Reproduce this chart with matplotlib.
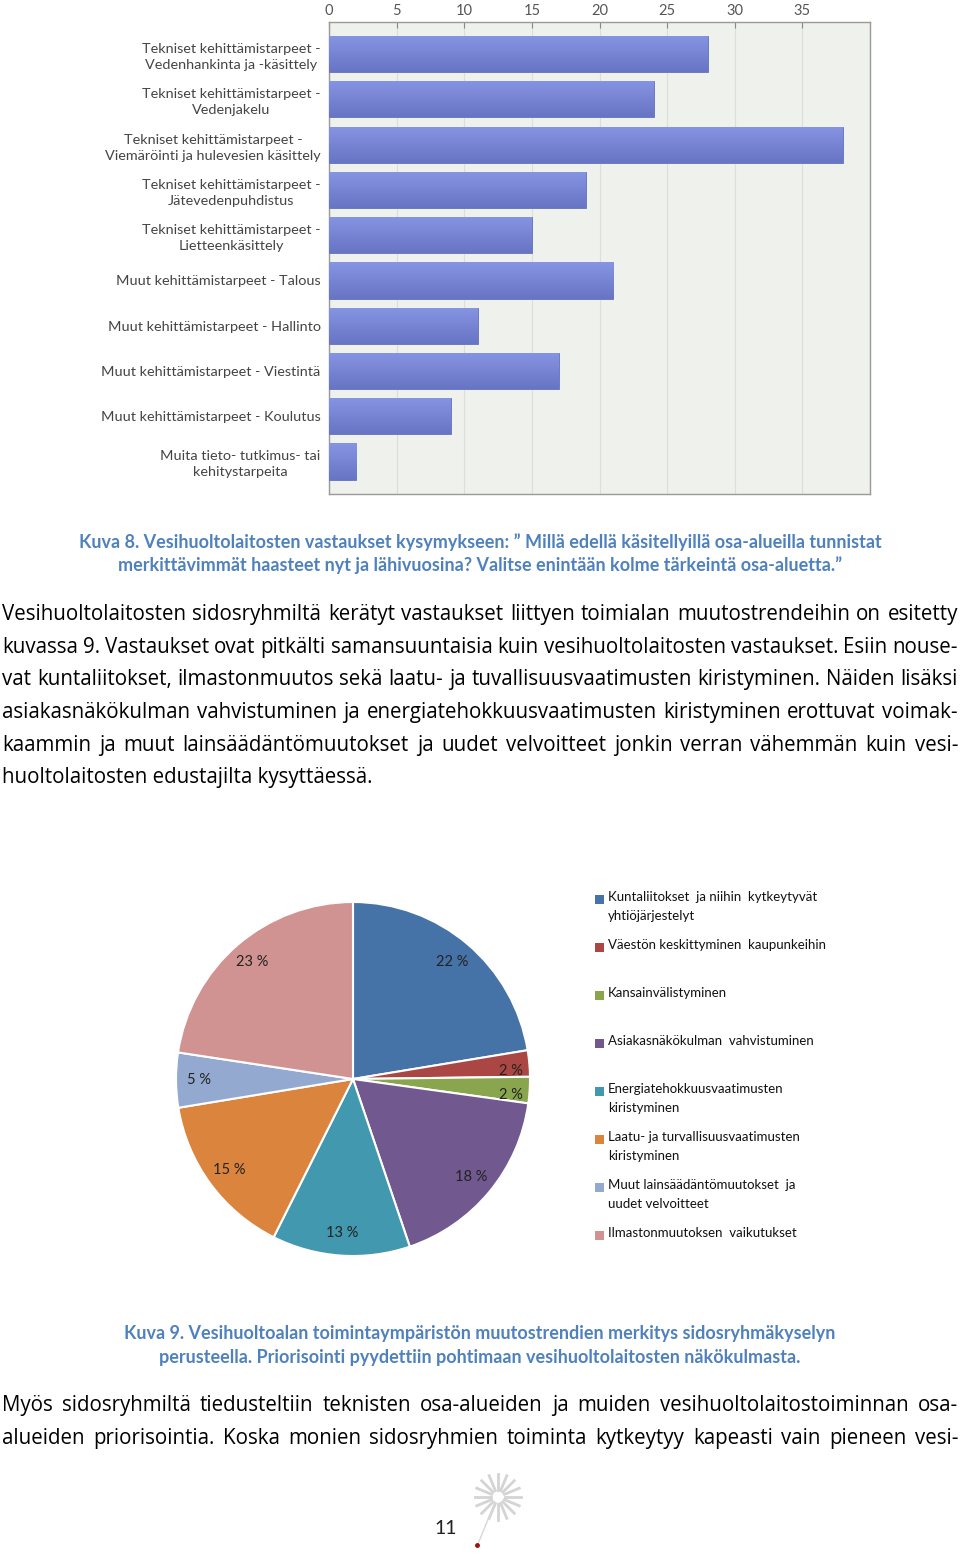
import matplotlib
matplotlib.use("Agg")
import matplotlib.pyplot as plt
import numpy as np
from matplotlib.patches import Rectangle
from matplotlib.lines import Line2D

W, H = 960, 1554
plt.rcParams["font.family"] = ["Lato", "DejaVu Sans"]

# ---- data ----
bar_labels = [
    "Tekniset kehittämistarpeet -\nVedenhankinta ja -käsittely",
    "Tekniset kehittämistarpeet -\nVedenjakelu",
    "Tekniset kehittämistarpeet -\nViemäröinti ja hulevesien käsittely",
    "Tekniset kehittämistarpeet -\nJätevedenpuhdistus",
    "Tekniset kehittämistarpeet -\nLietteenkäsittely",
    "Muut kehittämistarpeet - Talous",
    "Muut kehittämistarpeet - Hallinto",
    "Muut kehittämistarpeet - Viestintä",
    "Muut kehittämistarpeet - Koulutus",
    "Muita tieto- tutkimus- tai\nkehitystarpeita",
]
bar_values = [28, 24, 38, 19, 15, 21, 11, 17, 9, 2]
bar_ticks = [0, 5, 10, 15, 20, 25, 30, 35]

pie_labels = [
    "Kuntaliitokset  ja niihin  kytkeytyvät\nyhtiöjärjestelyt",
    "Väestön keskittyminen  kaupunkeihin",
    "Kansainvälistyminen",
    "Asiakasnäkökulman  vahvistuminen",
    "Energiatehokkuusvaatimusten\nkiristyminen",
    "Laatu- ja turvallisuusvaatimusten\nkiristyminen",
    "Muut lainsäädäntömuutokset  ja\nuudet velvoitteet",
    "Ilmastonmuutoksen  vaikutukset",
]
# slice sizes; labels show them rounded
pie_values = [22.4, 2.4, 2.4, 17.6, 12.6, 15.0, 5.0, 22.6]
pie_colors = ["#4572A7", "#AA4643", "#89A54E", "#71588F",
              "#4198AF", "#DB843D", "#93A9CF", "#D19392"]

caption8 = ["Kuva 8. Vesihuoltolaitosten vastaukset kysymykseen: \u201d Millä edellä käsitellyillä osa-alueilla tunnistat",
            "merkittävimmät haasteet nyt ja lähivuosina? Valitse enintään kolme tärkeintä osa-aluetta.\u201d"]
caption9 = ["Kuva 9. Vesihuoltoalan toimintaympäristön muutostrendien merkitys sidosryhmäkyselyn",
            "perusteella. Priorisointi pyydettiin pohtimaan vesihuoltolaitosten näkökulmasta."]
para1 = [
    "Vesihuoltolaitosten sidosryhmiltä kerätyt vastaukset liittyen toimialan muutostrendeihin on esitetty",
    "kuvassa 9. Vastaukset ovat pitkälti samansuuntaisia kuin vesihuoltolaitosten vastaukset. Esiin nouse-",
    "vat kuntaliitokset, ilmastonmuutos sekä laatu- ja tuvallisuusvaatimusten kiristyminen. Näiden lisäksi",
    "asiakasnäkökulman vahvistuminen ja energiatehokkuusvaatimusten kiristyminen erottuvat voimak-",
    "kaammin ja muut lainsäädäntömuutokset ja uudet velvoitteet jonkin verran vähemmän kuin vesi-",
    "huoltolaitosten edustajilta kysyttäessä.",
]
para2 = [
    "Myös sidosryhmiltä tiedusteltiin teknisten osa-alueiden ja muiden vesihuoltolaitostoiminnan osa-",
    "alueiden priorisointia. Koska monien sidosryhmien toiminta kytkeytyy kapeasti vain pieneen vesi-",
]

CAP = "#4F81BD"
BODY = ["Open Sans", "DejaVu Sans"]

fig = plt.figure(figsize=(W / 100, H / 100), dpi=100)
renderer = fig.canvas.get_renderer()


def fx(px):
    return px / W


def fy(py):
    return 1 - py / H


def justified(lines, y0, step, x0=2, x1=958, size=14.8, last_left=True):
    for i, line in enumerate(lines):
        y = fy(y0 + i * step)
        words = line.split(" ")
        if last_left and i == len(lines) - 1:
            fig.text(fx(x0), y, line, fontsize=size, va="baseline", color="black", family=BODY)
            continue
        ts = [fig.text(0, y, w, fontsize=size, va="baseline", color="black", family=BODY)
              for w in words]
        widths = [t.get_window_extent(renderer).width for t in ts]
        gap = (x1 - x0 - sum(widths)) / max(len(words) - 1, 1)
        x = x0
        for t, wd in zip(ts, widths):
            t.set_x(fx(x))
            x += wd + gap


# ---- bar chart ----
ax = fig.add_axes([fx(329), fy(494), fx(541), 472 / H])
ax.set_facecolor("#EFF1EC")
y = np.arange(len(bar_values))
bars = ax.barh(y, bar_values, height=0.8, color="#7787D6", edgecolor="#6470BC",
               linewidth=0.6, zorder=3)
grad = np.linspace(0, 1, 64).reshape(-1, 1)
cmap = matplotlib.colors.LinearSegmentedColormap.from_list("g", ["#8695E3", "#6874C4"])
for b in bars:
    x0, y0 = b.get_x(), b.get_y()
    im = ax.imshow(grad, cmap=cmap, aspect="auto", zorder=4,
                   extent=(x0, x0 + b.get_width(), y0 + b.get_height(), y0))
    im.set_clip_path(b)
ax.set_xlim(0, 40)
ax.set_ylim(9.72, -0.71)
ax.set_xticks(bar_ticks)
ax.xaxis.tick_top()
ax.set_yticks(y)
ax.set_yticklabels(bar_labels, fontsize=10.4, color="#444444", multialignment="center",
                   linespacing=1.4)
ax.tick_params(axis="y", length=0, pad=6)
ax.tick_params(axis="x", length=4, direction="in", labelsize=10.5, labelcolor="#555555",
               color="#888888", pad=3)
ax.grid(axis="x", color="#DCDEDA", linewidth=0.8, zorder=0)
for s in ax.spines.values():
    s.set_color("#9A9A9A")
    s.set_linewidth(1.0)

# ---- captions & text ----
for i, line in enumerate(caption8):
    fig.text(0.5, fy(548 + i * 23), line, ha="center", va="baseline",
             fontsize=13, fontweight="bold", color=CAP)
justified(para1, 620, 32.7)
for i, line in enumerate(caption9):
    fig.text(0.5, fy(1339 + i * 24), line, ha="center", va="baseline",
             fontsize=13, fontweight="bold", color=CAP)
justified(para2, 1411, 33, last_left=False)

# ---- pie ----
R = 177
pax = fig.add_axes([fx(353 - R), fy(1079 + R), 2 * R / W, 2 * R / H])
wedges, _, autotexts = pax.pie(pie_values, colors=pie_colors, startangle=90, counterclock=False,
                               autopct=lambda p: f"{p:.0f} %", pctdistance=0.87,
                               wedgeprops=dict(edgecolor="white", linewidth=1.5),
                               textprops=dict(fontsize=10.5, color="#222222"))
for t in autotexts[1:3]:
    px_, py_ = t.get_position()
    t.set_position((px_ * 1.03, py_ - 0.034))
pax.set_xlim(-1, 1)
pax.set_ylim(-1, 1)
pax.set_aspect("auto")
pax.axis("off")

# legend drawn as squares + labels so entries keep the even 48 px pitch
for i, (lab, col) in enumerate(zip(pie_labels, pie_colors)):
    yc = 899 + i * 48
    fig.patches.append(Rectangle((fx(595), fy(yc + 5)), fx(9), 9 / H, facecolor=col,
                                 edgecolor="none", transform=fig.transFigure))
    fig.text(fx(608), fy(yc - 8), lab, fontsize=9.5, va="top", color="#111111",
             linespacing=1.7)

# ---- page number & logo ----
fig.text(fx(446), fy(1534), "11", ha="center", va="baseline", fontsize=14, color="#222222")
cx, cy = 498, 1497
for a in np.arange(0, 360, 22.5):
    r = np.deg2rad(a)
    fig.add_artist(Line2D([fx(cx + 7 * np.cos(r)), fx(cx + 23 * np.cos(r))],
                          [fy(cy - 7 * np.sin(r)), fy(cy - 23 * np.sin(r))],
                          color="#D4D4D4", linewidth=2.0, transform=fig.transFigure))
fig.add_artist(Line2D([fx(491), fx(478)], [fy(1512), fy(1544)], color="#D8D8D8",
                      linewidth=1.0, transform=fig.transFigure))
fig.add_artist(Line2D([fx(477)], [fy(1545)], marker="o", markersize=2.5, color="#A01010",
                      transform=fig.transFigure))

fig.savefig("out.png", dpi=100, facecolor="white")
